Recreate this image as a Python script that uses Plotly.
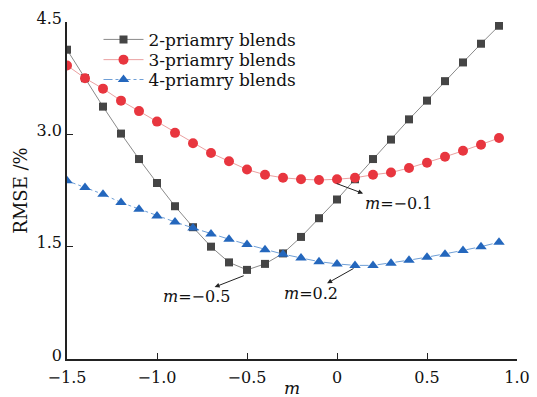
import plotly.graph_objects as go

m_vals = [round(-1.5 + 0.1 * i, 1) for i in range(25)]

rmse_2p = [4.13, 3.75, 3.37, 3.01, 2.67, 2.35, 2.04, 1.76, 1.50, 1.29, 1.19, 1.27,
           1.41, 1.63, 1.88, 2.13, 2.40, 2.67, 2.93, 3.20, 3.45, 3.71, 3.96, 4.21, 4.45]
rmse_3p = [3.92, 3.75, 3.61, 3.45, 3.31, 3.17, 3.02, 2.88, 2.75, 2.64, 2.53, 2.46,
           2.42, 2.40, 2.39, 2.40, 2.42, 2.46, 2.49, 2.55, 2.62, 2.70, 2.78, 2.86, 2.95]
rmse_4p = [2.38, 2.29, 2.20, 2.09, 2.00, 1.91, 1.83, 1.75, 1.67, 1.60, 1.53, 1.46,
           1.40, 1.35, 1.30, 1.27, 1.25, 1.25, 1.28, 1.32, 1.36, 1.40, 1.45, 1.50, 1.56]

names = ["2-priamry blends", "3-priamry blends", "4-priamry blends"]
x_ticks = [-1.5, -1.0, -0.5, 0, 0.5, 1.0]
x_tick_text = ["\u22121.5", "\u22121.0", "\u22120.5", "0", "0.5", "1.0"]
y_ticks = [0, 1.5, 3.0, 4.5]
y_tick_text = ["0", "1.5", "3.0", "4.5"]

FONT = "DejaVu Serif"

fig = go.Figure()
fig.add_trace(go.Scatter(
    x=m_vals, y=rmse_2p, name=names[0], mode="lines+markers", legend="legend",
    line=dict(color="#8a8a8a", width=1),
    marker=dict(symbol="square", size=8, color="#454545")))
fig.add_trace(go.Scatter(
    x=m_vals, y=rmse_3p, name=names[1], mode="lines+markers", legend="legend2",
    line=dict(color="#eba0a0", width=1),
    marker=dict(symbol="circle", size=10, color="#e8363f")))
fig.add_trace(go.Scatter(
    x=m_vals, y=rmse_4p, name=names[2], mode="lines+markers", legend="legend3",
    line=dict(color="#6f9fd6", width=1, dash="dashdot"),
    marker=dict(symbol="triangle-up", size=10, color="#2467bd")))

arrows = [
    dict(tail=(-0.51, 1.12), head=(-0.68, 0.96), text="<i>m</i>=\u22120.5", tpos=(-0.78, 0.83)),
    dict(tail=(-0.01, 2.35), head=(0.145, 2.21), text="<i>m</i>=\u22120.1", tpos=(0.34, 2.08)),
    dict(tail=(0.10, 1.22), head=(-0.055, 1.01), text="<i>m</i>=0.2", tpos=(-0.145, 0.88)),
]
for a in arrows:
    fig.add_annotation(x=a["head"][0], y=a["head"][1], ax=a["tail"][0], ay=a["tail"][1],
                       xref="x", yref="y", axref="x", ayref="y", text="",
                       showarrow=True, arrowhead=2, arrowsize=1, arrowwidth=1,
                       arrowcolor="#222222")
    fig.add_annotation(x=a["tpos"][0], y=a["tpos"][1], xref="x", yref="y",
                       text=a["text"], showarrow=False,
                       font=dict(family=FONT, size=16, color="#111111"))

# x-axis title placed just below the tick labels
fig.add_annotation(x=0.5, y=-0.085, xref="paper", yref="paper", yanchor="middle",
                   text="<i>m</i>", showarrow=False,
                   font=dict(family=FONT, size=17, color="#111111"))

legend_common = dict(x=0.07, xanchor="left", yanchor="middle",
                     bgcolor="rgba(0,0,0,0)", font=dict(family=FONT, size=17),
                     itemwidth=40)

fig.update_layout(
    width=537, height=397,
    margin=dict(l=67, r=20, t=22, b=38),
    paper_bgcolor="white", plot_bgcolor="white",
    font=dict(family=FONT, size=16, color="#111111"),
    showlegend=True,
    legend=dict(y=0.947, **legend_common),
    legend2=dict(y=0.887, **legend_common),
    legend3=dict(y=0.828, **legend_common),
    xaxis=dict(range=[-1.5, 1.0], tickvals=x_ticks, ticktext=x_tick_text,
               showgrid=False, zeroline=False, showline=True, linecolor="#222222",
               linewidth=1.5, ticks="inside", ticklen=6, tickcolor="#222222",
               ticklabelstandoff=3, automargin=False),
    yaxis=dict(range=[0, 4.5], tickvals=y_ticks, ticktext=y_tick_text,
               showgrid=False, zeroline=False, showline=True, linecolor="#222222",
               linewidth=1.5, ticks="inside", ticklen=6, tickcolor="#222222",
               ticklabelshift=-4, automargin=False,
               title=dict(text="RMSE /%", standoff=4, font=dict(size=18))),
)

fig.write_html("out.html")
